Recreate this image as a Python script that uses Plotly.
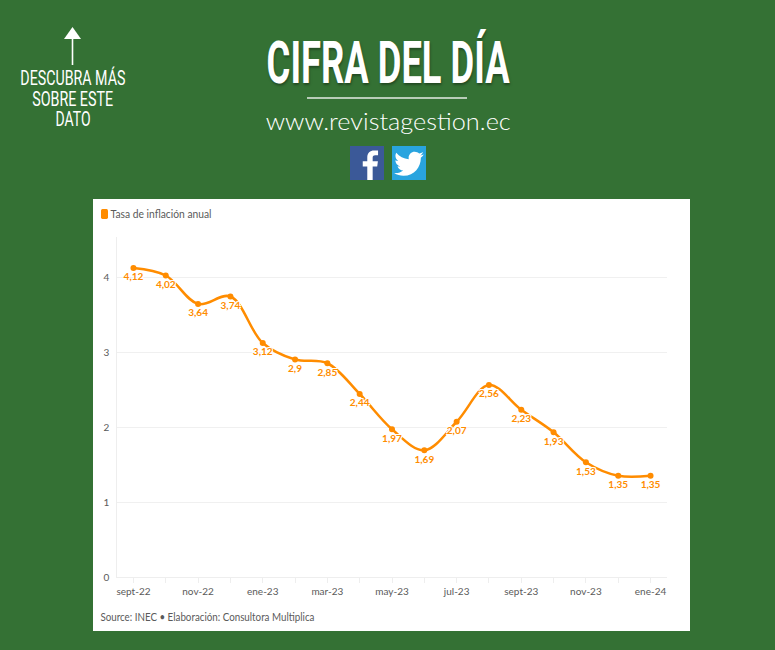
import re
import json
import plotly.graph_objects as go

meses = ["sept-22", "oct-22", "nov-22", "dic-22", "ene-23", "feb-23", "mar-23", "abr-23", "may-23",
         "jun-23", "jul-23", "ago-23", "sept-23", "oct-23", "nov-23", "dic-23", "ene-24"]
inflacion = [4.12, 4.02, 3.64, 3.74, 3.12, 2.9, 2.85, 2.44, 1.97, 1.69, 2.07, 2.56, 2.23, 1.93, 1.53, 1.35, 1.35]
y_ticks = [0, 1, 2, 3, 4]

W, H = 775, 650
VERDE = "#347134"
NARANJA = "#ff8c00"
GRIS = "#5a5a5a"
FUENTE = "Lato"

etiquetas = [str(v).replace(".", ",") for v in inflacion]
# solo un mes de cada dos lleva texto
x_labels = [m if i % 2 == 0 else " " for i, m in enumerate(meses)]

# no hay fuente condensada instalada: se ajusta el ancho de estos textos en el svg
anchos = {"CIFRA DEL DÍA": 243, "www.revistagestion.ec": 245, "DESCUBRA MÁS": 105, "SOBRE ESTE": 81, "DATO": 35,
          "Tasa de inflación anual": 101, "Source: INEC • Elaboración: Consultora Multiplica": 214}


def px(x):
    return x / W


def py(y):
    return 1 - y / H


def icon_path(d, x0, y0, ancho, alto):
    # pasa un path de 24x24 a coordenadas paper
    nums = iter(re.findall(r"[A-Z]|-?[\d.]+", d))
    out = []
    for tok in nums:
        if tok.isalpha():
            out.append(tok)
        else:
            out.append(f"{px(x0 + float(tok) * ancho / 24):.5f},{py(y0 + float(next(nums)) * alto / 24):.5f}")
    return " ".join(out)


TWITTER = ("M22.46,6C21.69,6.35 20.86,6.58 20,6.69C20.88,6.16 21.56,5.32 21.88,4.31C21.05,4.81 20.13,5.16 19.16,5.36"
           "C18.37,4.5 17.26,4 16,4C13.65,4 11.73,5.92 11.73,8.29C11.73,8.63 11.77,8.96 11.84,9.27"
           "C8.28,9.09 5.11,7.38 3,4.79C2.63,5.42 2.42,6.16 2.42,6.94C2.42,8.43 3.17,9.75 4.33,10.5"
           "C3.62,10.5 2.96,10.3 2.38,10C2.38,10 2.38,10 2.38,10.03C2.38,12.11 3.86,13.85 5.82,14.24"
           "C5.46,14.34 5.08,14.39 4.69,14.39C4.42,14.39 4.15,14.36 3.89,14.31C4.43,16 6,17.26 7.89,17.29"
           "C6.43,18.45 4.58,19.13 2.56,19.13C2.22,19.13 1.88,19.11 1.54,19.07C3.44,20.29 5.7,21 8.12,21"
           "C16,21 20.33,14.46 20.33,8.79C20.33,8.6 20.33,8.42 20.32,8.23C21.16,7.63 21.88,6.87 22.46,6Z")
FACEBOOK = ("M16,24L16,14.5L19.2,14.5L19.7,10.8L16,10.8L16,8.4C16,7.3 16.3,6.6 17.9,6.6L19.8,6.6L19.8,3.2"
            "C19.5,3.2 18.4,3.1 17,3.1C14.2,3.1 12.2,4.8 12.2,8L12.2,10.8L9,10.8L9,14.5L12.2,14.5L12.2,24Z")
LEYENDA = "M5,0L19,0Q24,0 24,4L24,20Q24,24 19,24L5,24Q0,24 0,20L0,4Q0,0 5,0Z"


def rect(x0, y0, x1, y1, color, layer="below"):
    return dict(type="rect", xref="paper", yref="paper", x0=px(x0), x1=px(x1), y0=py(y0), y1=py(y1),
                fillcolor=color, line_width=0, layer=layer)


def texto(txt, x, y, size, color="white", family=FUENTE, **kw):
    return dict(text=txt, x=px(x), y=py(y), xref="paper", yref="paper", xanchor="center", yanchor="middle",
                showarrow=False, font=dict(size=size, color=color, family=family, **kw))


fig = go.Figure()
fig.add_trace(go.Scatter(
    x=meses, y=inflacion, name="Tasa de inflación anual",
    mode="lines+markers+text",
    line=dict(color=NARANJA, width=2.5, shape="spline", smoothing=1),
    marker=dict(color=NARANJA, size=6),
    text=etiquetas, textposition="bottom center",
    textfont=dict(family=FUENTE, size=10, color=NARANJA, weight="bold",
                  shadow="1px 1px 0 white, -1px -1px 0 white, 1px -1px 0 white, -1px 1px 0 white"),
    showlegend=False, cliponaxis=False,
))

shapes = [
    rect(93, 199, 690, 631, "white"),
    dict(type="path", xref="paper", yref="paper", fillcolor=NARANJA, line_width=0,
         path=icon_path(LEYENDA, 101, 209, 7, 10)),
    # flecha
    dict(type="line", xref="paper", yref="paper", x0=px(72.5), x1=px(72.5), y0=py(36), y1=py(65),
         line=dict(color="white", width=1.6)),
    dict(type="path", xref="paper", yref="paper", fillcolor="white", line_width=0,
         path=f"M{px(64)},{py(39)} L{px(72.5)},{py(27)} L{px(81)},{py(39)} Z"),
    # raya bajo el titulo
    dict(type="line", xref="paper", yref="paper", x0=px(307), x1=px(467), y0=py(98), y1=py(98),
         line=dict(color="#e4ebe4", width=1.4)),
    # redes
    rect(350, 146, 384, 180, "#3b5998"),
    rect(392, 146, 426, 180, "#29a4df"),
    dict(type="path", xref="paper", yref="paper", fillcolor="white", line_width=0, layer="above",
         path=icon_path(FACEBOOK, 350, 146, 34, 34)),
    dict(type="path", xref="paper", yref="paper", fillcolor="white", line_width=0, layer="above",
         path=icon_path(TWITTER, 392, 146, 34, 34)),
]

annotations = [
    texto("CIFRA DEL DÍA", 388, 63, 59, family="Roboto", weight="bold",
          shadow="1px 2px 3px rgba(0,0,0,0.35)"),
    texto("www.revistagestion.ec", 388, 120, 24, family="Lato", weight=300),
    texto("DESCUBRA MÁS", 72.5, 78, 20, family="Roboto"),
    texto("SOBRE ESTE", 72.5, 99, 20, family="Roboto"),
    texto("DATO", 72.5, 119, 20, family="Roboto"),
    texto("Tasa de inflación anual", 161, 213.5, 11, color=GRIS),
    texto("Source: INEC • Elaboración: Consultora Multiplica", 207.5, 616.5, 11, color=GRIS),
]

fig.update_layout(
    width=W, height=H,
    margin=dict(l=0, r=0, t=0, b=0),
    paper_bgcolor=VERDE, plot_bgcolor="rgba(0,0,0,0)",
    shapes=shapes, annotations=annotations,
    font=dict(family=FUENTE, color=GRIS, size=10),
)
fig.update_xaxes(
    domain=[px(117.3), px(666.7)], automargin=False,
    type="category", categoryorder="array", categoryarray=meses,
    range=[-0.5, 16.5],
    tickmode="array", tickvals=meses, ticktext=x_labels, tickangle=0,
    ticks="outside", ticklen=5, tickcolor="#eeeeee", tickwidth=1,
    showgrid=False, showline=True, linecolor="#eeeeee", linewidth=1, zeroline=False,
)
fig.update_yaxes(
    domain=[py(577), py(237)], automargin=False,
    range=[0, 340 / 75],
    tickmode="array", tickvals=y_ticks,
    ticks="outside", ticklen=5, tickcolor="rgba(0,0,0,0)",
    showgrid=True, gridcolor="#f0f0f0", gridwidth=1,
    showline=True, linecolor="#eeeeee", linewidth=1, zeroline=False,
)

post = """
document.body.style.margin = '0';
var anchos = %s;
document.querySelectorAll('.annotation-text').forEach(function (t) {
    var w = anchos[t.textContent];
    if (w) {
        t.setAttribute('textLength', w);
        t.setAttribute('lengthAdjust', 'spacingAndGlyphs');
    }
});
""" % json.dumps(anchos)

fig.write_html("out.html", post_script=post, config={"displayModeBar": False})
